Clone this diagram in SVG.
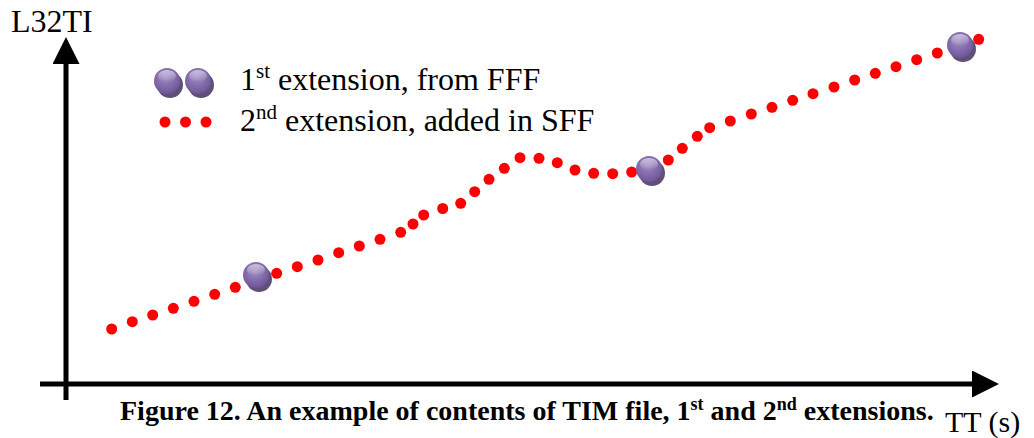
<svg xmlns="http://www.w3.org/2000/svg" width="1034" height="438" viewBox="0 0 1034 438">
<defs>
<radialGradient id="ballg" cx="0.45" cy="0.35" r="0.7">
<stop offset="0" stop-color="#9f8cc4"/>
<stop offset="0.6" stop-color="#8067a8"/>
<stop offset="1" stop-color="#6a5292"/>
</radialGradient>
<linearGradient id="hl" x1="0" y1="0" x2="0" y2="1">
<stop offset="0" stop-color="#ffffff" stop-opacity="0.55"/>
<stop offset="1" stop-color="#ffffff" stop-opacity="0"/>
</linearGradient>
<g id="ball">
<circle cx="3" cy="4" r="13" fill="#5f5078"/>
<circle cx="0" cy="0" r="13" fill="url(#ballg)"/>
<ellipse cx="0" cy="-5" rx="9" ry="6" fill="url(#hl)"/>
</g>
<marker id="ah" viewBox="0 0 10 10" refX="0" refY="5" markerWidth="6" markerHeight="5.4" markerUnits="strokeWidth" orient="auto">
<path d="M0,0 L10,5 L0,10 Z" fill="#000"/>
</marker>
</defs>
<style>
.ax{stroke:#000;stroke-width:5;fill:none}
.d{fill:#ff0000}
</style>
<rect width="1034" height="438" fill="#fff"/>
<g id="axes">
<line class="ax" x1="66" y1="400" x2="66" y2="64" marker-end="url(#ah)"/>
<line class="ax" x1="40" y1="384" x2="972" y2="384" marker-end="url(#ah)"/>
</g>
<g font-family="'Liberation Serif', 'Times New Roman', 'DejaVu Serif', serif" fill="#000">
<text x="11" y="32" font-size="32">L32TI</text>
<text x="945" y="432" font-size="30">TT (s)</text>
<g id="legend">
<use href="#ball" x="167" y="81"/>
<use href="#ball" x="198" y="81"/>
<circle class="d" cx="165" cy="122" r="5.5"/>
<circle class="d" cx="185.5" cy="122" r="5.5"/>
<circle class="d" cx="206" cy="122" r="5.5"/>
<text x="240" y="90" font-size="32">1<tspan font-size="21" dy="-12">st</tspan><tspan dy="12"> extension, from FFF</tspan></text>
<text x="240" y="131" font-size="32">2<tspan font-size="21" dy="-12">nd</tspan><tspan dy="12"> extension, added in SFF</tspan></text>
</g>
<text x="120" y="420" font-size="28" font-weight="bold">Figure 12. An example of contents of TIM file, 1<tspan font-size="18" dy="-10">st</tspan><tspan dy="10"> and 2</tspan><tspan font-size="18" dy="-10">nd</tspan><tspan dy="10"> extensions.</tspan></text>
</g>
<g id="connectors">
<circle class="d" cx="111.7" cy="329" r="5.5"/>
<circle class="d" cx="132.3" cy="321.7" r="5.5"/>
<circle class="d" cx="152.7" cy="315" r="5.5"/>
<circle class="d" cx="173.3" cy="308.3" r="5.5"/>
<circle class="d" cx="194" cy="301.3" r="5.5"/>
<circle class="d" cx="214.7" cy="294.3" r="5.5"/>
<circle class="d" cx="235.3" cy="287.3" r="5.5"/>
<circle class="d" cx="276.7" cy="273.3" r="5.5"/>
<circle class="d" cx="297.3" cy="266.7" r="5.5"/>
<circle class="d" cx="318" cy="260" r="5.5"/>
<circle class="d" cx="338.7" cy="252.7" r="5.5"/>
<circle class="d" cx="359.3" cy="246" r="5.5"/>
<circle class="d" cx="380" cy="239.3" r="5.5"/>
<circle class="d" cx="400.7" cy="232.3" r="5.5"/>
<circle class="d" cx="413" cy="224" r="5.5"/>
<circle class="d" cx="423.7" cy="215" r="5.5"/>
<circle class="d" cx="442.7" cy="208.5" r="5.5"/>
<circle class="d" cx="460.7" cy="203.3" r="5.5"/>
<circle class="d" cx="474.7" cy="191.7" r="5.5"/>
<circle class="d" cx="489" cy="179.3" r="5.5"/>
<circle class="d" cx="504.3" cy="168.3" r="5.5"/>
<circle class="d" cx="520" cy="157.7" r="5.5"/>
<circle class="d" cx="539" cy="158.3" r="5.5"/>
<circle class="d" cx="557.3" cy="162.7" r="5.5"/>
<circle class="d" cx="575" cy="170" r="5.5"/>
<circle class="d" cx="593.7" cy="173.3" r="5.5"/>
<circle class="d" cx="612.7" cy="173.7" r="5.5"/>
<circle class="d" cx="631.7" cy="172" r="5.5"/>
<circle class="d" cx="668.3" cy="160" r="5.5"/>
<circle class="d" cx="682.3" cy="148.3" r="5.5"/>
<circle class="d" cx="697.3" cy="136.3" r="5.5"/>
<circle class="d" cx="709.7" cy="127.7" r="5.5"/>
<circle class="d" cx="730.3" cy="121" r="5.5"/>
<circle class="d" cx="751.3" cy="114" r="5.5"/>
<circle class="d" cx="772" cy="107.3" r="5.5"/>
<circle class="d" cx="792.7" cy="100.3" r="5.5"/>
<circle class="d" cx="813" cy="93.7" r="5.5"/>
<circle class="d" cx="834" cy="87" r="5.5"/>
<circle class="d" cx="854.7" cy="80" r="5.5"/>
<circle class="d" cx="875.3" cy="73.3" r="5.5"/>
<circle class="d" cx="896" cy="66.7" r="5.5"/>
<circle class="d" cx="916.7" cy="59.7" r="5.5"/>
<circle class="d" cx="937.3" cy="53" r="5.5"/>
<circle class="d" cx="978.7" cy="39.3" r="5.5"/>
</g>
<g id="node1"><use href="#ball" x="256" y="275"/></g>
<g id="node2"><use href="#ball" x="649" y="169"/></g>
<g id="node3"><use href="#ball" x="960" y="45"/></g>
</svg>
